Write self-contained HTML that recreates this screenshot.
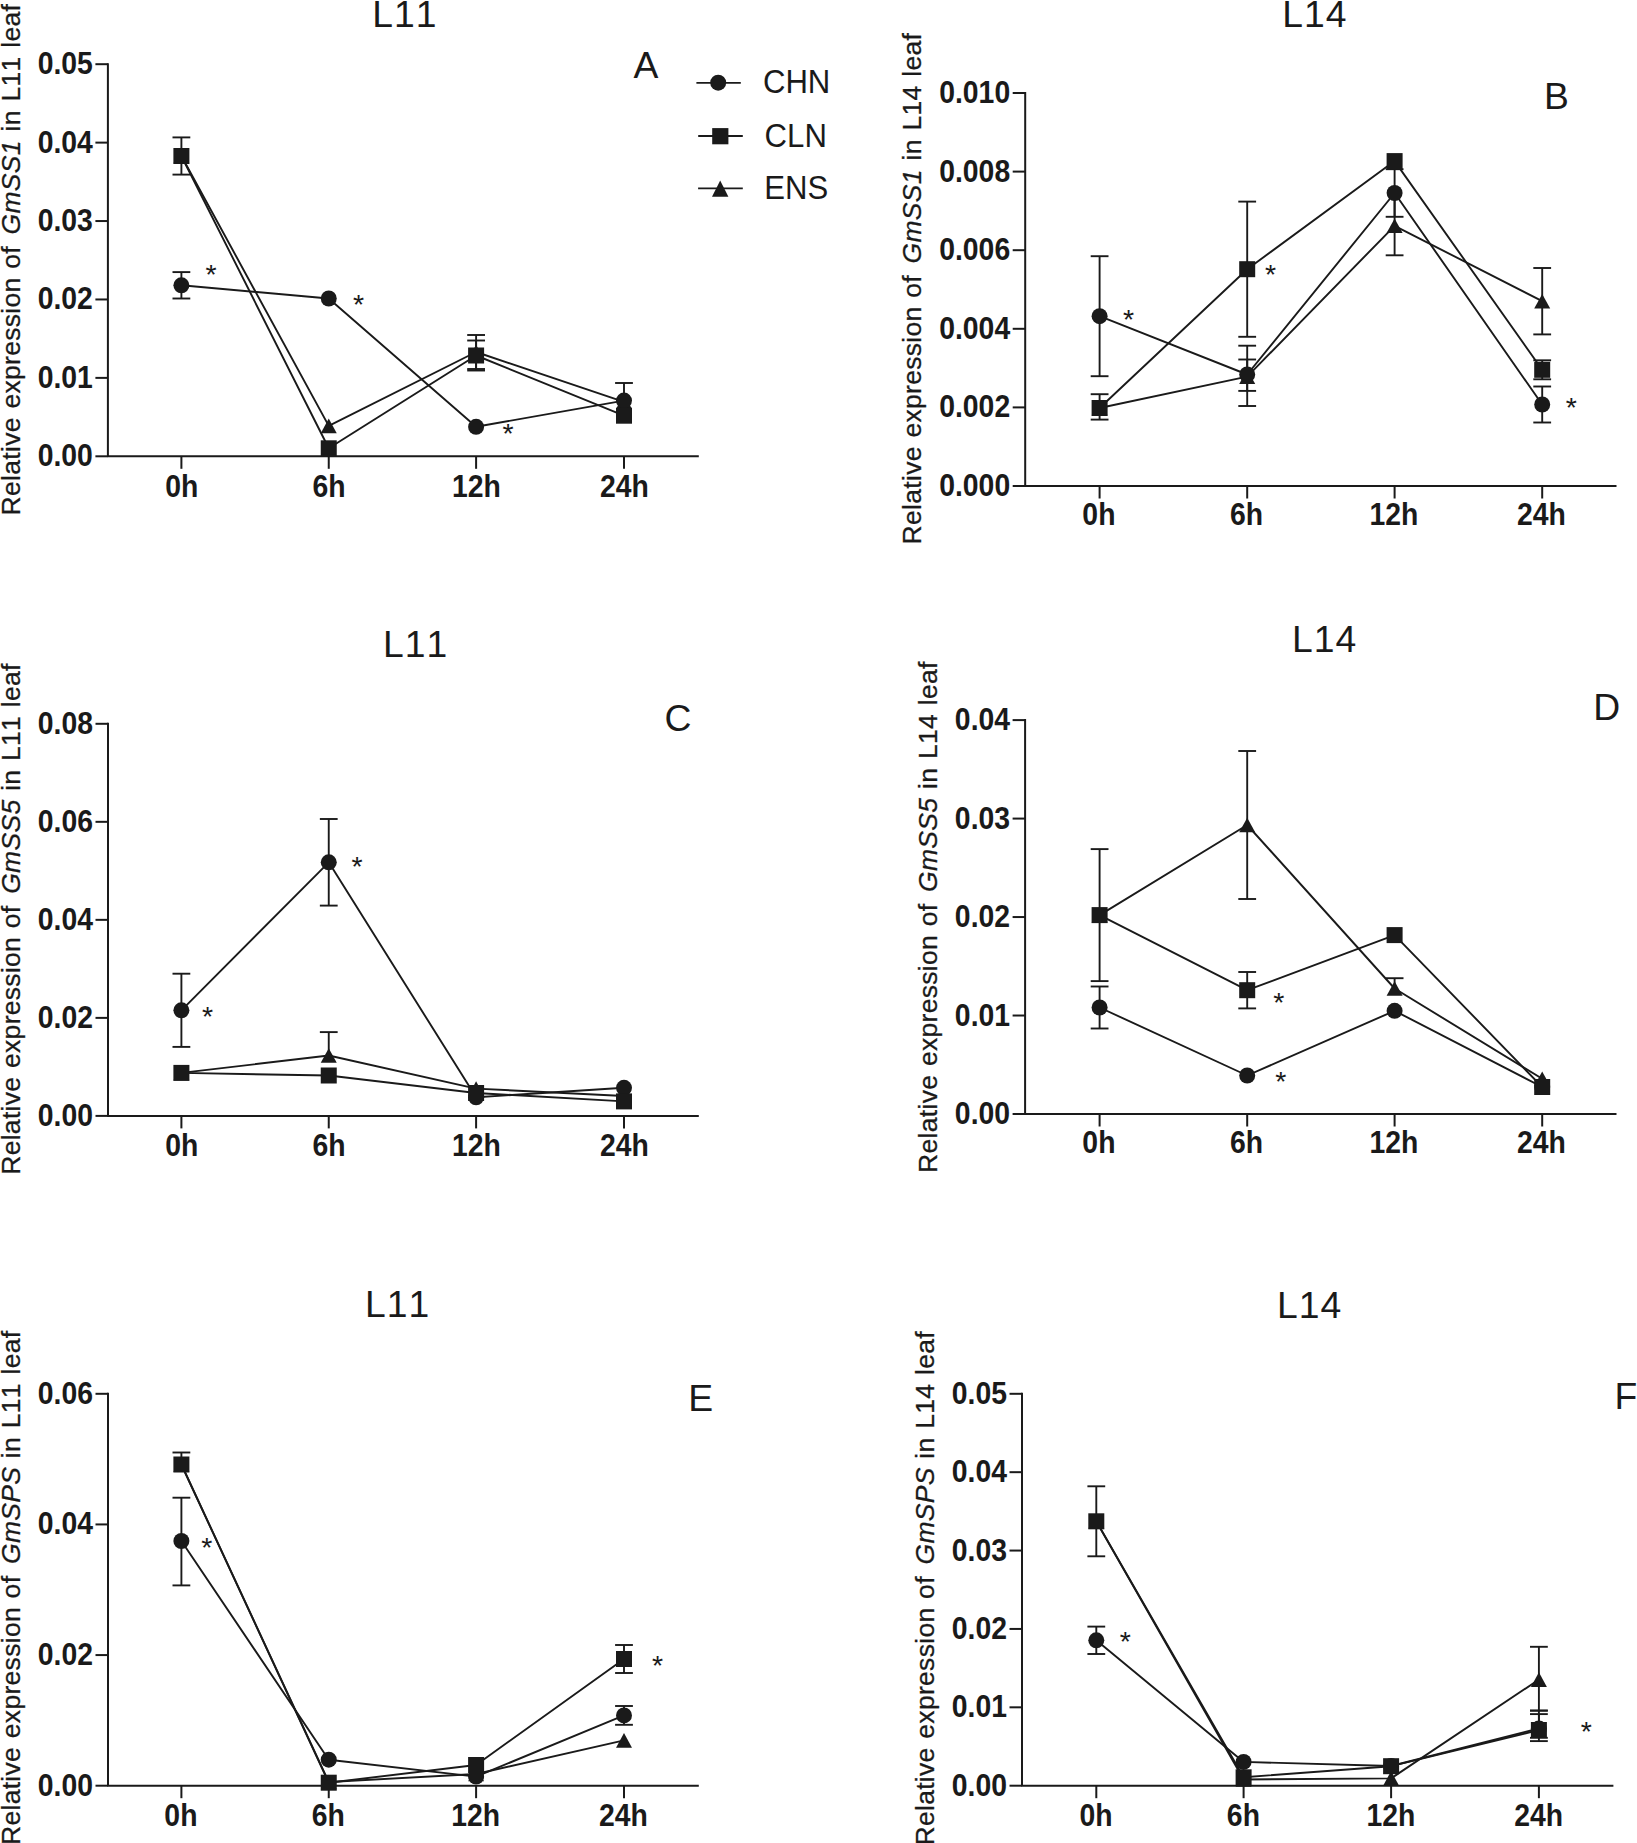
<!DOCTYPE html>
<html lang="en"><head><meta charset="utf-8"><title>Relative expression of GmSS1, GmSS5 and GmSPS in L11 and L14 leaves</title>
<style>
html,body{margin:0;padding:0;background:#fff}
svg{display:block}
text{font-family:"Liberation Sans",sans-serif;fill:#1a1a1a;stroke:none;font-kerning:none;font-variant-ligatures:none}
.tk{font-size:30.5px;font-weight:bold}
.tt{font-size:37.3px;letter-spacing:1.0px}
.lg{font-size:33.5px}
.yl{font-size:26.5px;letter-spacing:0.3px;word-spacing:1px;stroke:#1a1a1a;stroke-width:0.3px}
.it{font-style:italic}
.st{font-size:28.5px}
.m{fill:#1a1a1a;stroke:none}
</style></head><body>
<svg width="1637" height="1843" viewBox="0 0 1637 1843" stroke="#1a1a1a" stroke-linecap="butt" stroke-linejoin="round">
<rect x="0" y="0" width="1637" height="1843" fill="#fff" stroke="none"/>
<g id="panel-A">
<path d="M107.9 63.2V456.3H698.8" fill="none" stroke-width="2.0"/>
<line x1="95.4" y1="456.3" x2="107.9" y2="456.3" stroke-width="2.0"/>
<text transform="translate(92.85 466.3) scale(0.93 1)" class="tk" text-anchor="end">0.00</text>
<line x1="95.4" y1="377.88" x2="107.9" y2="377.88" stroke-width="2.0"/>
<text transform="translate(92.85 387.88) scale(0.93 1)" class="tk" text-anchor="end">0.01</text>
<line x1="95.4" y1="299.46" x2="107.9" y2="299.46" stroke-width="2.0"/>
<text transform="translate(92.85 309.46) scale(0.93 1)" class="tk" text-anchor="end">0.02</text>
<line x1="95.4" y1="221.04" x2="107.9" y2="221.04" stroke-width="2.0"/>
<text transform="translate(92.85 231.04) scale(0.93 1)" class="tk" text-anchor="end">0.03</text>
<line x1="95.4" y1="142.62" x2="107.9" y2="142.62" stroke-width="2.0"/>
<text transform="translate(92.85 152.62) scale(0.93 1)" class="tk" text-anchor="end">0.04</text>
<line x1="95.4" y1="64.2" x2="107.9" y2="64.2" stroke-width="2.0"/>
<text transform="translate(92.85 74.2) scale(0.93 1)" class="tk" text-anchor="end">0.05</text>
<line x1="181.4" y1="456.3" x2="181.4" y2="468.8" stroke-width="2.0"/>
<text transform="translate(181.7 496.7) scale(0.93 1)" class="tk" text-anchor="middle">0h</text>
<line x1="328.75" y1="456.3" x2="328.75" y2="468.8" stroke-width="2.0"/>
<text transform="translate(329.05 496.7) scale(0.93 1)" class="tk" text-anchor="middle">6h</text>
<line x1="476.1" y1="456.3" x2="476.1" y2="468.8" stroke-width="2.0"/>
<text transform="translate(476.4 496.7) scale(0.93 1)" class="tk" text-anchor="middle">12h</text>
<line x1="624" y1="456.3" x2="624" y2="468.8" stroke-width="2.0"/>
<text transform="translate(624.3 496.7) scale(0.93 1)" class="tk" text-anchor="middle">24h</text>
<text x="372.2" y="27.2" class="tt" text-anchor="start">L11</text>
<text x="633.5" y="77.8" class="tt" text-anchor="start">A</text>
<text class="yl" transform="translate(20 515.4) rotate(-90)" >Relative expression of <tspan class="it" dx="3">GmSS1</tspan> in L11 leaf</text>
<polyline points="181.4,285.3 328.75,298.5 476.1,426.8 624,400.6" fill="none" stroke-width="1.9"/>
<polyline points="181.4,156 328.75,448.3 476.1,355.5 624,415.7" fill="none" stroke-width="1.9"/>
<polyline points="181.4,156 328.75,425.9 476.1,352 624,401.8" fill="none" stroke-width="1.9"/>
<line x1="181.4" y1="285.3" x2="181.4" y2="272.1" stroke-width="1.9"/>
<line x1="172.5" y1="272.1" x2="190.3" y2="272.1" stroke-width="1.9"/>
<line x1="181.4" y1="285.3" x2="181.4" y2="298.5" stroke-width="1.9"/>
<line x1="172.5" y1="298.5" x2="190.3" y2="298.5" stroke-width="1.9"/>
<line x1="624" y1="400.6" x2="624" y2="383" stroke-width="1.9"/>
<line x1="615.1" y1="383" x2="632.9" y2="383" stroke-width="1.9"/>
<line x1="181.4" y1="156" x2="181.4" y2="137.4" stroke-width="1.9"/>
<line x1="172.5" y1="137.4" x2="190.3" y2="137.4" stroke-width="1.9"/>
<line x1="181.4" y1="156" x2="181.4" y2="174.6" stroke-width="1.9"/>
<line x1="172.5" y1="174.6" x2="190.3" y2="174.6" stroke-width="1.9"/>
<line x1="476.1" y1="355.5" x2="476.1" y2="340.5" stroke-width="1.9"/>
<line x1="467.2" y1="340.5" x2="485" y2="340.5" stroke-width="1.9"/>
<line x1="476.1" y1="355.5" x2="476.1" y2="370.5" stroke-width="1.9"/>
<line x1="467.2" y1="370.5" x2="485" y2="370.5" stroke-width="1.9"/>
<line x1="476.1" y1="352" x2="476.1" y2="335" stroke-width="1.9"/>
<line x1="467.2" y1="335" x2="485" y2="335" stroke-width="1.9"/>
<line x1="476.1" y1="352" x2="476.1" y2="369" stroke-width="1.9"/>
<line x1="467.2" y1="369" x2="485" y2="369" stroke-width="1.9"/>
<polygon points="181.4,148.7 189.4,163.3 173.4,163.3" class="m"/>
<polygon points="328.75,418.6 336.75,433.2 320.75,433.2" class="m"/>
<polygon points="476.1,344.7 484.1,359.3 468.1,359.3" class="m"/>
<polygon points="624,394.5 632,409.1 616,409.1" class="m"/>
<circle cx="181.4" cy="285.3" r="8" class="m"/>
<circle cx="328.75" cy="298.5" r="8" class="m"/>
<circle cx="476.1" cy="426.8" r="8" class="m"/>
<circle cx="624" cy="400.6" r="8" class="m"/>
<rect x="173.4" y="148" width="16" height="16" class="m"/>
<rect x="320.75" y="440.3" width="16" height="16" class="m"/>
<rect x="468.1" y="347.5" width="16" height="16" class="m"/>
<rect x="616" y="407.7" width="16" height="16" class="m"/>
<text x="211" y="284.1" class="st" text-anchor="middle">*</text>
<text x="358.6" y="313.7" class="st" text-anchor="middle">*</text>
<text x="508" y="443.2" class="st" text-anchor="middle">*</text>
</g>
<g id="panel-B">
<path d="M1025.2 92V486H1616.5" fill="none" stroke-width="2.0"/>
<line x1="1012.7" y1="486" x2="1025.2" y2="486" stroke-width="2.0"/>
<text transform="translate(1010.15 496) scale(0.93 1)" class="tk" text-anchor="end">0.000</text>
<line x1="1012.7" y1="407.4" x2="1025.2" y2="407.4" stroke-width="2.0"/>
<text transform="translate(1010.15 417.4) scale(0.93 1)" class="tk" text-anchor="end">0.002</text>
<line x1="1012.7" y1="328.8" x2="1025.2" y2="328.8" stroke-width="2.0"/>
<text transform="translate(1010.15 338.8) scale(0.93 1)" class="tk" text-anchor="end">0.004</text>
<line x1="1012.7" y1="250.2" x2="1025.2" y2="250.2" stroke-width="2.0"/>
<text transform="translate(1010.15 260.2) scale(0.93 1)" class="tk" text-anchor="end">0.006</text>
<line x1="1012.7" y1="171.6" x2="1025.2" y2="171.6" stroke-width="2.0"/>
<text transform="translate(1010.15 181.6) scale(0.93 1)" class="tk" text-anchor="end">0.008</text>
<line x1="1012.7" y1="93" x2="1025.2" y2="93" stroke-width="2.0"/>
<text transform="translate(1010.15 103) scale(0.93 1)" class="tk" text-anchor="end">0.010</text>
<line x1="1099.6" y1="486" x2="1099.6" y2="498.5" stroke-width="2.0"/>
<text transform="translate(1098.9 525.3) scale(0.93 1)" class="tk" text-anchor="middle">0h</text>
<line x1="1247.2" y1="486" x2="1247.2" y2="498.5" stroke-width="2.0"/>
<text transform="translate(1246.5 525.3) scale(0.93 1)" class="tk" text-anchor="middle">6h</text>
<line x1="1394.6" y1="486" x2="1394.6" y2="498.5" stroke-width="2.0"/>
<text transform="translate(1393.9 525.3) scale(0.93 1)" class="tk" text-anchor="middle">12h</text>
<line x1="1542.2" y1="486" x2="1542.2" y2="498.5" stroke-width="2.0"/>
<text transform="translate(1541.5 525.3) scale(0.93 1)" class="tk" text-anchor="middle">24h</text>
<text x="1282.2" y="27.3" class="tt" text-anchor="start">L14</text>
<text x="1544" y="109.3" class="tt" text-anchor="start">B</text>
<text class="yl" transform="translate(921.4 544.4) rotate(-90)" >Relative expression of <tspan class="it" dx="3">GmSS1</tspan> in L14 leaf</text>
<polyline points="1099.6,316.2 1247.2,374.5 1394.6,193 1542.2,404.5" fill="none" stroke-width="1.9"/>
<polyline points="1099.6,408 1247.2,269.2 1394.6,161.1 1542.2,369.8" fill="none" stroke-width="1.9"/>
<polyline points="1099.6,408 1247.2,376.6 1394.6,225.8 1542.2,301.2" fill="none" stroke-width="1.9"/>
<line x1="1099.6" y1="316.2" x2="1099.6" y2="256.2" stroke-width="1.9"/>
<line x1="1090.7" y1="256.2" x2="1108.5" y2="256.2" stroke-width="1.9"/>
<line x1="1099.6" y1="316.2" x2="1099.6" y2="376.2" stroke-width="1.9"/>
<line x1="1090.7" y1="376.2" x2="1108.5" y2="376.2" stroke-width="1.9"/>
<line x1="1247.2" y1="374.5" x2="1247.2" y2="359.5" stroke-width="1.9"/>
<line x1="1238.3" y1="359.5" x2="1256.1" y2="359.5" stroke-width="1.9"/>
<line x1="1247.2" y1="374.5" x2="1247.2" y2="390.9" stroke-width="1.9"/>
<line x1="1238.3" y1="390.9" x2="1256.1" y2="390.9" stroke-width="1.9"/>
<line x1="1394.6" y1="193" x2="1394.6" y2="169.2" stroke-width="1.9"/>
<line x1="1385.7" y1="169.2" x2="1403.5" y2="169.2" stroke-width="1.9"/>
<line x1="1394.6" y1="193" x2="1394.6" y2="216.8" stroke-width="1.9"/>
<line x1="1385.7" y1="216.8" x2="1403.5" y2="216.8" stroke-width="1.9"/>
<line x1="1542.2" y1="404.5" x2="1542.2" y2="386.5" stroke-width="1.9"/>
<line x1="1533.3" y1="386.5" x2="1551.1" y2="386.5" stroke-width="1.9"/>
<line x1="1542.2" y1="404.5" x2="1542.2" y2="422.5" stroke-width="1.9"/>
<line x1="1533.3" y1="422.5" x2="1551.1" y2="422.5" stroke-width="1.9"/>
<line x1="1099.6" y1="408" x2="1099.6" y2="394.2" stroke-width="1.9"/>
<line x1="1090.7" y1="394.2" x2="1108.5" y2="394.2" stroke-width="1.9"/>
<line x1="1099.6" y1="408" x2="1099.6" y2="419.6" stroke-width="1.9"/>
<line x1="1090.7" y1="419.6" x2="1108.5" y2="419.6" stroke-width="1.9"/>
<line x1="1247.2" y1="269.2" x2="1247.2" y2="201.6" stroke-width="1.9"/>
<line x1="1238.3" y1="201.6" x2="1256.1" y2="201.6" stroke-width="1.9"/>
<line x1="1247.2" y1="269.2" x2="1247.2" y2="336.8" stroke-width="1.9"/>
<line x1="1238.3" y1="336.8" x2="1256.1" y2="336.8" stroke-width="1.9"/>
<line x1="1542.2" y1="369.8" x2="1542.2" y2="360.3" stroke-width="1.9"/>
<line x1="1533.3" y1="360.3" x2="1551.1" y2="360.3" stroke-width="1.9"/>
<line x1="1542.2" y1="369.8" x2="1542.2" y2="379.3" stroke-width="1.9"/>
<line x1="1533.3" y1="379.3" x2="1551.1" y2="379.3" stroke-width="1.9"/>
<line x1="1247.2" y1="376.6" x2="1247.2" y2="345.7" stroke-width="1.9"/>
<line x1="1238.3" y1="345.7" x2="1256.1" y2="345.7" stroke-width="1.9"/>
<line x1="1247.2" y1="376.6" x2="1247.2" y2="406" stroke-width="1.9"/>
<line x1="1238.3" y1="406" x2="1256.1" y2="406" stroke-width="1.9"/>
<line x1="1394.6" y1="225.8" x2="1394.6" y2="196.3" stroke-width="1.9"/>
<line x1="1394.6" y1="225.8" x2="1394.6" y2="255.3" stroke-width="1.9"/>
<line x1="1385.7" y1="255.3" x2="1403.5" y2="255.3" stroke-width="1.9"/>
<line x1="1542.2" y1="301.2" x2="1542.2" y2="268" stroke-width="1.9"/>
<line x1="1533.3" y1="268" x2="1551.1" y2="268" stroke-width="1.9"/>
<line x1="1542.2" y1="301.2" x2="1542.2" y2="334.4" stroke-width="1.9"/>
<line x1="1533.3" y1="334.4" x2="1551.1" y2="334.4" stroke-width="1.9"/>
<polygon points="1099.6,400.7 1107.6,415.3 1091.6,415.3" class="m"/>
<polygon points="1247.2,369.3 1255.2,383.9 1239.2,383.9" class="m"/>
<polygon points="1394.6,218.5 1402.6,233.1 1386.6,233.1" class="m"/>
<polygon points="1542.2,293.9 1550.2,308.5 1534.2,308.5" class="m"/>
<circle cx="1099.6" cy="316.2" r="8" class="m"/>
<circle cx="1247.2" cy="374.5" r="8" class="m"/>
<circle cx="1394.6" cy="193" r="8" class="m"/>
<circle cx="1542.2" cy="404.5" r="8" class="m"/>
<rect x="1091.6" y="400" width="16" height="16" class="m"/>
<rect x="1239.2" y="261.2" width="16" height="16" class="m"/>
<rect x="1386.6" y="153.1" width="16" height="16" class="m"/>
<rect x="1534.2" y="361.8" width="16" height="16" class="m"/>
<text x="1128.6" y="328.9" class="st" text-anchor="middle">*</text>
<text x="1270.5" y="284.4" class="st" text-anchor="middle">*</text>
<text x="1571.2" y="417.4" class="st" text-anchor="middle">*</text>
</g>
<g id="panel-C">
<path d="M108 722.8V1115.9H698.8" fill="none" stroke-width="2.0"/>
<line x1="95.5" y1="1115.9" x2="108" y2="1115.9" stroke-width="2.0"/>
<text transform="translate(92.95 1125.9) scale(0.93 1)" class="tk" text-anchor="end">0.00</text>
<line x1="95.5" y1="1017.88" x2="108" y2="1017.88" stroke-width="2.0"/>
<text transform="translate(92.95 1027.88) scale(0.93 1)" class="tk" text-anchor="end">0.02</text>
<line x1="95.5" y1="919.85" x2="108" y2="919.85" stroke-width="2.0"/>
<text transform="translate(92.95 929.85) scale(0.93 1)" class="tk" text-anchor="end">0.04</text>
<line x1="95.5" y1="821.83" x2="108" y2="821.83" stroke-width="2.0"/>
<text transform="translate(92.95 831.83) scale(0.93 1)" class="tk" text-anchor="end">0.06</text>
<line x1="95.5" y1="723.8" x2="108" y2="723.8" stroke-width="2.0"/>
<text transform="translate(92.95 733.8) scale(0.93 1)" class="tk" text-anchor="end">0.08</text>
<line x1="181.4" y1="1115.9" x2="181.4" y2="1128.4" stroke-width="2.0"/>
<text transform="translate(181.7 1155.6) scale(0.93 1)" class="tk" text-anchor="middle">0h</text>
<line x1="328.75" y1="1115.9" x2="328.75" y2="1128.4" stroke-width="2.0"/>
<text transform="translate(329.05 1155.6) scale(0.93 1)" class="tk" text-anchor="middle">6h</text>
<line x1="476.1" y1="1115.9" x2="476.1" y2="1128.4" stroke-width="2.0"/>
<text transform="translate(476.4 1155.6) scale(0.93 1)" class="tk" text-anchor="middle">12h</text>
<line x1="624" y1="1115.9" x2="624" y2="1128.4" stroke-width="2.0"/>
<text transform="translate(624.3 1155.6) scale(0.93 1)" class="tk" text-anchor="middle">24h</text>
<text x="382.9" y="656.7" class="tt" text-anchor="start">L11</text>
<text x="664.5" y="730.7" class="tt" text-anchor="start">C</text>
<text class="yl" transform="translate(19.8 1174.8) rotate(-90)" >Relative expression of <tspan class="it" dx="3">GmSS5</tspan> in L11 leaf</text>
<polyline points="181.4,1010.3 328.75,862.3 476.1,1097.3 624,1087.8" fill="none" stroke-width="1.9"/>
<polyline points="181.4,1072.9 328.75,1075.5 476.1,1093 624,1101.4" fill="none" stroke-width="1.9"/>
<polyline points="181.4,1072.9 328.75,1055.5 476.1,1088.6 624,1096" fill="none" stroke-width="1.9"/>
<line x1="181.4" y1="1010.3" x2="181.4" y2="973.7" stroke-width="1.9"/>
<line x1="172.5" y1="973.7" x2="190.3" y2="973.7" stroke-width="1.9"/>
<line x1="181.4" y1="1010.3" x2="181.4" y2="1046.9" stroke-width="1.9"/>
<line x1="172.5" y1="1046.9" x2="190.3" y2="1046.9" stroke-width="1.9"/>
<line x1="328.75" y1="862.3" x2="328.75" y2="819" stroke-width="1.9"/>
<line x1="319.85" y1="819" x2="337.65" y2="819" stroke-width="1.9"/>
<line x1="328.75" y1="862.3" x2="328.75" y2="905.6" stroke-width="1.9"/>
<line x1="319.85" y1="905.6" x2="337.65" y2="905.6" stroke-width="1.9"/>
<line x1="328.75" y1="1055.5" x2="328.75" y2="1032.1" stroke-width="1.9"/>
<line x1="319.85" y1="1032.1" x2="337.65" y2="1032.1" stroke-width="1.9"/>
<polygon points="181.4,1065.6 189.4,1080.2 173.4,1080.2" class="m"/>
<polygon points="328.75,1048.2 336.75,1062.8 320.75,1062.8" class="m"/>
<polygon points="476.1,1081.3 484.1,1095.9 468.1,1095.9" class="m"/>
<polygon points="624,1088.7 632,1103.3 616,1103.3" class="m"/>
<circle cx="181.4" cy="1010.3" r="8" class="m"/>
<circle cx="328.75" cy="862.3" r="8" class="m"/>
<circle cx="476.1" cy="1097.3" r="8" class="m"/>
<circle cx="624" cy="1087.8" r="8" class="m"/>
<rect x="173.4" y="1064.9" width="16" height="16" class="m"/>
<rect x="320.75" y="1067.5" width="16" height="16" class="m"/>
<rect x="468.1" y="1085" width="16" height="16" class="m"/>
<rect x="616" y="1093.4" width="16" height="16" class="m"/>
<text x="207.5" y="1025.9" class="st" text-anchor="middle">*</text>
<text x="357" y="876.2" class="st" text-anchor="middle">*</text>
</g>
<g id="panel-D">
<path d="M1025.1 719.1V1114H1616.5" fill="none" stroke-width="2.0"/>
<line x1="1012.6" y1="1114" x2="1025.1" y2="1114" stroke-width="2.0"/>
<text transform="translate(1010.05 1124) scale(0.93 1)" class="tk" text-anchor="end">0.00</text>
<line x1="1012.6" y1="1015.52" x2="1025.1" y2="1015.52" stroke-width="2.0"/>
<text transform="translate(1010.05 1025.53) scale(0.93 1)" class="tk" text-anchor="end">0.01</text>
<line x1="1012.6" y1="917.05" x2="1025.1" y2="917.05" stroke-width="2.0"/>
<text transform="translate(1010.05 927.05) scale(0.93 1)" class="tk" text-anchor="end">0.02</text>
<line x1="1012.6" y1="818.58" x2="1025.1" y2="818.58" stroke-width="2.0"/>
<text transform="translate(1010.05 828.58) scale(0.93 1)" class="tk" text-anchor="end">0.03</text>
<line x1="1012.6" y1="720.1" x2="1025.1" y2="720.1" stroke-width="2.0"/>
<text transform="translate(1010.05 730.1) scale(0.93 1)" class="tk" text-anchor="end">0.04</text>
<line x1="1099.6" y1="1114" x2="1099.6" y2="1126.5" stroke-width="2.0"/>
<text transform="translate(1098.9 1153.4) scale(0.93 1)" class="tk" text-anchor="middle">0h</text>
<line x1="1247.2" y1="1114" x2="1247.2" y2="1126.5" stroke-width="2.0"/>
<text transform="translate(1246.5 1153.4) scale(0.93 1)" class="tk" text-anchor="middle">6h</text>
<line x1="1394.6" y1="1114" x2="1394.6" y2="1126.5" stroke-width="2.0"/>
<text transform="translate(1393.9 1153.4) scale(0.93 1)" class="tk" text-anchor="middle">12h</text>
<line x1="1542.2" y1="1114" x2="1542.2" y2="1126.5" stroke-width="2.0"/>
<text transform="translate(1541.5 1153.4) scale(0.93 1)" class="tk" text-anchor="middle">24h</text>
<text x="1291.9" y="652" class="tt" text-anchor="start">L14</text>
<text x="1593.2" y="719.7" class="tt" text-anchor="start">D</text>
<text class="yl" transform="translate(937.2 1172.9) rotate(-90)" >Relative expression of <tspan class="it" dx="3">GmSS5</tspan> in L14 leaf</text>
<polyline points="1099.6,1007.5 1247.2,1075.5 1394.6,1010.8 1542.2,1087" fill="none" stroke-width="1.9"/>
<polyline points="1099.6,915.1 1247.2,990.2 1394.6,935.1 1542.2,1087" fill="none" stroke-width="1.9"/>
<polyline points="1099.6,915.1 1247.2,825 1394.6,988.5 1542.2,1078.8" fill="none" stroke-width="1.9"/>
<line x1="1099.6" y1="1007.5" x2="1099.6" y2="986.5" stroke-width="1.9"/>
<line x1="1090.7" y1="986.5" x2="1108.5" y2="986.5" stroke-width="1.9"/>
<line x1="1099.6" y1="1007.5" x2="1099.6" y2="1028.5" stroke-width="1.9"/>
<line x1="1090.7" y1="1028.5" x2="1108.5" y2="1028.5" stroke-width="1.9"/>
<line x1="1099.6" y1="915.1" x2="1099.6" y2="849.1" stroke-width="1.9"/>
<line x1="1090.7" y1="849.1" x2="1108.5" y2="849.1" stroke-width="1.9"/>
<line x1="1099.6" y1="915.1" x2="1099.6" y2="981.1" stroke-width="1.9"/>
<line x1="1090.7" y1="981.1" x2="1108.5" y2="981.1" stroke-width="1.9"/>
<line x1="1247.2" y1="990.2" x2="1247.2" y2="972" stroke-width="1.9"/>
<line x1="1238.3" y1="972" x2="1256.1" y2="972" stroke-width="1.9"/>
<line x1="1247.2" y1="990.2" x2="1247.2" y2="1008.4" stroke-width="1.9"/>
<line x1="1238.3" y1="1008.4" x2="1256.1" y2="1008.4" stroke-width="1.9"/>
<line x1="1247.2" y1="825" x2="1247.2" y2="751" stroke-width="1.9"/>
<line x1="1238.3" y1="751" x2="1256.1" y2="751" stroke-width="1.9"/>
<line x1="1247.2" y1="825" x2="1247.2" y2="899" stroke-width="1.9"/>
<line x1="1238.3" y1="899" x2="1256.1" y2="899" stroke-width="1.9"/>
<line x1="1394.6" y1="988.5" x2="1394.6" y2="978.2" stroke-width="1.9"/>
<line x1="1385.7" y1="978.2" x2="1403.5" y2="978.2" stroke-width="1.9"/>
<polygon points="1099.6,907.8 1107.6,922.4 1091.6,922.4" class="m"/>
<polygon points="1247.2,817.7 1255.2,832.3 1239.2,832.3" class="m"/>
<polygon points="1394.6,981.2 1402.6,995.8 1386.6,995.8" class="m"/>
<polygon points="1542.2,1071.5 1550.2,1086.1 1534.2,1086.1" class="m"/>
<circle cx="1099.6" cy="1007.5" r="8" class="m"/>
<circle cx="1247.2" cy="1075.5" r="8" class="m"/>
<circle cx="1394.6" cy="1010.8" r="8" class="m"/>
<circle cx="1542.2" cy="1087" r="8" class="m"/>
<rect x="1091.6" y="907.1" width="16" height="16" class="m"/>
<rect x="1239.2" y="982.2" width="16" height="16" class="m"/>
<rect x="1386.6" y="927.1" width="16" height="16" class="m"/>
<rect x="1534.2" y="1079" width="16" height="16" class="m"/>
<text x="1278.7" y="1011.8" class="st" text-anchor="middle">*</text>
<text x="1280.7" y="1090.6" class="st" text-anchor="middle">*</text>
</g>
<g id="panel-E">
<path d="M108 1392.8V1785.7H698.8" fill="none" stroke-width="2.0"/>
<line x1="95.5" y1="1785.7" x2="108" y2="1785.7" stroke-width="2.0"/>
<text transform="translate(92.95 1795.7) scale(0.93 1)" class="tk" text-anchor="end">0.00</text>
<line x1="95.5" y1="1655.07" x2="108" y2="1655.07" stroke-width="2.0"/>
<text transform="translate(92.95 1665.07) scale(0.93 1)" class="tk" text-anchor="end">0.02</text>
<line x1="95.5" y1="1524.43" x2="108" y2="1524.43" stroke-width="2.0"/>
<text transform="translate(92.95 1534.43) scale(0.93 1)" class="tk" text-anchor="end">0.04</text>
<line x1="95.5" y1="1393.8" x2="108" y2="1393.8" stroke-width="2.0"/>
<text transform="translate(92.95 1403.8) scale(0.93 1)" class="tk" text-anchor="end">0.06</text>
<line x1="181.4" y1="1785.7" x2="181.4" y2="1798.2" stroke-width="2.0"/>
<text transform="translate(180.9 1825.6) scale(0.93 1)" class="tk" text-anchor="middle">0h</text>
<line x1="328.75" y1="1785.7" x2="328.75" y2="1798.2" stroke-width="2.0"/>
<text transform="translate(328.25 1825.6) scale(0.93 1)" class="tk" text-anchor="middle">6h</text>
<line x1="476.1" y1="1785.7" x2="476.1" y2="1798.2" stroke-width="2.0"/>
<text transform="translate(475.6 1825.6) scale(0.93 1)" class="tk" text-anchor="middle">12h</text>
<line x1="624" y1="1785.7" x2="624" y2="1798.2" stroke-width="2.0"/>
<text transform="translate(623.5 1825.6) scale(0.93 1)" class="tk" text-anchor="middle">24h</text>
<text x="364.9" y="1317.1" class="tt" text-anchor="start">L11</text>
<text x="688.2" y="1411.4" class="tt" text-anchor="start">E</text>
<text class="yl" transform="translate(19.8 1845) rotate(-90)" >Relative expression of <tspan class="it" dx="3">GmSPS</tspan> in L11 leaf</text>
<polyline points="181.4,1541 328.75,1759.7 476.1,1776.6 624,1715.4" fill="none" stroke-width="1.9"/>
<polyline points="181.4,1464.5 328.75,1782.7 476.1,1765 624,1659" fill="none" stroke-width="1.9"/>
<polyline points="181.4,1464.5 328.75,1782 476.1,1774 624,1740.4" fill="none" stroke-width="1.9"/>
<line x1="181.4" y1="1541" x2="181.4" y2="1497.7" stroke-width="1.9"/>
<line x1="172.5" y1="1497.7" x2="190.3" y2="1497.7" stroke-width="1.9"/>
<line x1="181.4" y1="1541" x2="181.4" y2="1585.4" stroke-width="1.9"/>
<line x1="172.5" y1="1585.4" x2="190.3" y2="1585.4" stroke-width="1.9"/>
<line x1="624" y1="1715.4" x2="624" y2="1706" stroke-width="1.9"/>
<line x1="615.1" y1="1706" x2="632.9" y2="1706" stroke-width="1.9"/>
<line x1="624" y1="1715.4" x2="624" y2="1724.8" stroke-width="1.9"/>
<line x1="615.1" y1="1724.8" x2="632.9" y2="1724.8" stroke-width="1.9"/>
<line x1="181.4" y1="1464.5" x2="181.4" y2="1452.5" stroke-width="1.9"/>
<line x1="172.5" y1="1452.5" x2="190.3" y2="1452.5" stroke-width="1.9"/>
<line x1="624" y1="1659" x2="624" y2="1645" stroke-width="1.9"/>
<line x1="615.1" y1="1645" x2="632.9" y2="1645" stroke-width="1.9"/>
<line x1="624" y1="1659" x2="624" y2="1673" stroke-width="1.9"/>
<line x1="615.1" y1="1673" x2="632.9" y2="1673" stroke-width="1.9"/>
<polygon points="181.4,1457.2 189.4,1471.8 173.4,1471.8" class="m"/>
<polygon points="328.75,1774.7 336.75,1789.3 320.75,1789.3" class="m"/>
<polygon points="476.1,1766.7 484.1,1781.3 468.1,1781.3" class="m"/>
<polygon points="624,1733.1 632,1747.7 616,1747.7" class="m"/>
<circle cx="181.4" cy="1541" r="8" class="m"/>
<circle cx="328.75" cy="1759.7" r="8" class="m"/>
<circle cx="476.1" cy="1776.6" r="8" class="m"/>
<circle cx="624" cy="1715.4" r="8" class="m"/>
<rect x="173.4" y="1456.5" width="16" height="16" class="m"/>
<rect x="320.75" y="1774.7" width="16" height="16" class="m"/>
<rect x="468.1" y="1757" width="16" height="16" class="m"/>
<rect x="616" y="1651" width="16" height="16" class="m"/>
<text x="206.8" y="1556.5" class="st" text-anchor="middle">*</text>
<text x="657.5" y="1674.5" class="st" text-anchor="middle">*</text>
</g>
<g id="panel-F">
<path d="M1022 1392.8V1785.7H1613.4" fill="none" stroke-width="2.0"/>
<line x1="1009.5" y1="1785.7" x2="1022" y2="1785.7" stroke-width="2.0"/>
<text transform="translate(1006.95 1795.7) scale(0.93 1)" class="tk" text-anchor="end">0.00</text>
<line x1="1009.5" y1="1707.32" x2="1022" y2="1707.32" stroke-width="2.0"/>
<text transform="translate(1006.95 1717.32) scale(0.93 1)" class="tk" text-anchor="end">0.01</text>
<line x1="1009.5" y1="1628.94" x2="1022" y2="1628.94" stroke-width="2.0"/>
<text transform="translate(1006.95 1638.94) scale(0.93 1)" class="tk" text-anchor="end">0.02</text>
<line x1="1009.5" y1="1550.56" x2="1022" y2="1550.56" stroke-width="2.0"/>
<text transform="translate(1006.95 1560.56) scale(0.93 1)" class="tk" text-anchor="end">0.03</text>
<line x1="1009.5" y1="1472.18" x2="1022" y2="1472.18" stroke-width="2.0"/>
<text transform="translate(1006.95 1482.18) scale(0.93 1)" class="tk" text-anchor="end">0.04</text>
<line x1="1009.5" y1="1393.8" x2="1022" y2="1393.8" stroke-width="2.0"/>
<text transform="translate(1006.95 1403.8) scale(0.93 1)" class="tk" text-anchor="end">0.05</text>
<line x1="1096.3" y1="1785.7" x2="1096.3" y2="1798.2" stroke-width="2.0"/>
<text transform="translate(1096.1 1825.6) scale(0.93 1)" class="tk" text-anchor="middle">0h</text>
<line x1="1243.6" y1="1785.7" x2="1243.6" y2="1798.2" stroke-width="2.0"/>
<text transform="translate(1243.4 1825.6) scale(0.93 1)" class="tk" text-anchor="middle">6h</text>
<line x1="1391.1" y1="1785.7" x2="1391.1" y2="1798.2" stroke-width="2.0"/>
<text transform="translate(1390.9 1825.6) scale(0.93 1)" class="tk" text-anchor="middle">12h</text>
<line x1="1538.9" y1="1785.7" x2="1538.9" y2="1798.2" stroke-width="2.0"/>
<text transform="translate(1538.7 1825.6) scale(0.93 1)" class="tk" text-anchor="middle">24h</text>
<text x="1277" y="1317.9" class="tt" text-anchor="start">L14</text>
<text x="1614.5" y="1408.5" class="tt" text-anchor="start">F</text>
<text class="yl" transform="translate(933.7 1845.5) rotate(-90)" >Relative expression of <tspan class="it" dx="3">GmSPS</tspan> in L14 leaf</text>
<polyline points="1096.3,1640.3 1243.6,1761.9 1391.1,1766 1538.9,1728.5" fill="none" stroke-width="1.9"/>
<polyline points="1096.3,1521.3 1243.6,1777.3 1391.1,1766.2 1538.9,1730" fill="none" stroke-width="1.9"/>
<polyline points="1096.3,1521.3 1243.6,1779.5 1391.1,1778.4 1538.9,1679.6" fill="none" stroke-width="1.9"/>
<line x1="1096.3" y1="1640.3" x2="1096.3" y2="1626.6" stroke-width="1.9"/>
<line x1="1087.4" y1="1626.6" x2="1105.2" y2="1626.6" stroke-width="1.9"/>
<line x1="1096.3" y1="1640.3" x2="1096.3" y2="1654" stroke-width="1.9"/>
<line x1="1087.4" y1="1654" x2="1105.2" y2="1654" stroke-width="1.9"/>
<line x1="1538.9" y1="1728.5" x2="1538.9" y2="1710.6" stroke-width="1.9"/>
<line x1="1530" y1="1710.6" x2="1547.8" y2="1710.6" stroke-width="1.9"/>
<line x1="1538.9" y1="1728.5" x2="1538.9" y2="1741.1" stroke-width="1.9"/>
<line x1="1530" y1="1741.1" x2="1547.8" y2="1741.1" stroke-width="1.9"/>
<line x1="1096.3" y1="1521.3" x2="1096.3" y2="1486.3" stroke-width="1.9"/>
<line x1="1087.4" y1="1486.3" x2="1105.2" y2="1486.3" stroke-width="1.9"/>
<line x1="1096.3" y1="1521.3" x2="1096.3" y2="1556.3" stroke-width="1.9"/>
<line x1="1087.4" y1="1556.3" x2="1105.2" y2="1556.3" stroke-width="1.9"/>
<line x1="1538.9" y1="1730" x2="1538.9" y2="1714.1" stroke-width="1.9"/>
<line x1="1530" y1="1714.1" x2="1547.8" y2="1714.1" stroke-width="1.9"/>
<line x1="1538.9" y1="1730" x2="1538.9" y2="1737.8" stroke-width="1.9"/>
<line x1="1530" y1="1737.8" x2="1547.8" y2="1737.8" stroke-width="1.9"/>
<line x1="1538.9" y1="1679.6" x2="1538.9" y2="1646.8" stroke-width="1.9"/>
<line x1="1530" y1="1646.8" x2="1547.8" y2="1646.8" stroke-width="1.9"/>
<line x1="1538.9" y1="1679.6" x2="1538.9" y2="1710.6" stroke-width="1.9"/>
<line x1="1530" y1="1710.6" x2="1547.8" y2="1710.6" stroke-width="1.9"/>
<polygon points="1096.3,1514 1104.3,1528.6 1088.3,1528.6" class="m"/>
<polygon points="1243.6,1772.2 1251.6,1786.8 1235.6,1786.8" class="m"/>
<polygon points="1391.1,1771.1 1399.1,1785.7 1383.1,1785.7" class="m"/>
<polygon points="1538.9,1672.3 1546.9,1686.9 1530.9,1686.9" class="m"/>
<circle cx="1096.3" cy="1640.3" r="8" class="m"/>
<circle cx="1243.6" cy="1761.9" r="8" class="m"/>
<circle cx="1391.1" cy="1766" r="8" class="m"/>
<circle cx="1538.9" cy="1728.5" r="8" class="m"/>
<rect x="1088.3" y="1513.3" width="16" height="16" class="m"/>
<rect x="1235.6" y="1769.3" width="16" height="16" class="m"/>
<rect x="1383.1" y="1758.2" width="16" height="16" class="m"/>
<rect x="1530.9" y="1722" width="16" height="16" class="m"/>
<text x="1125.3" y="1651.4" class="st" text-anchor="middle">*</text>
<text x="1586.2" y="1740.9" class="st" text-anchor="middle">*</text>
</g>
<g id="legend">
<line x1="696.4" y1="82.9" x2="740.8" y2="82.9" stroke-width="1.9"/>
<circle cx="718.2" cy="82.7" r="8" class="m"/>
<text transform="translate(762.9 93.2) scale(0.93 1)" class="lg" text-anchor="start">CHN</text>
<line x1="698.2" y1="135.95" x2="742.8" y2="135.95" stroke-width="1.9"/>
<rect x="712.2" y="128.1" width="16.2" height="16.2" class="m"/>
<text transform="translate(764.6 146.5) scale(0.93 1)" class="lg" text-anchor="start">CLN</text>
<line x1="698.1" y1="188.35" x2="742.8" y2="188.35" stroke-width="1.9"/>
<polygon points="720.2,180.4 728.4,196.8 712,196.8" class="m"/>
<text transform="translate(764.3 198.8) scale(0.93 1)" class="lg" text-anchor="start">ENS</text>
</g>
</svg></body></html>
